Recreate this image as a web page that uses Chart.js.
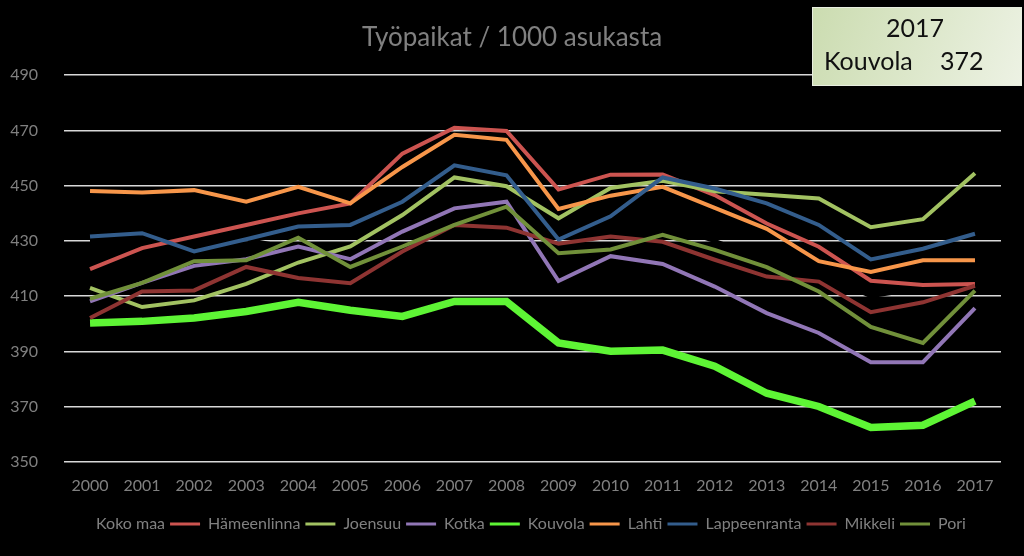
<!DOCTYPE html>
<html>
<head>
<meta charset="utf-8">
<style>
  html, body { margin: 0; padding: 0; background: #000; }
  #wrap { width: 1024px; height: 556px; }
</style>
<script src="https://cdn.jsdelivr.net/npm/chart.js@4/dist/chart.umd.min.js"></script>
</head>
<body>
<div id="wrap"><canvas id="jobsChart" width="1024" height="556"></canvas></div>
<script>
// Työpaikat / 1000 asukasta, 2000-2017
const years = ['2000', '2001', '2002', '2003', '2004', '2005', '2006', '2007', '2008',
  '2009', '2010', '2011', '2012', '2013', '2014', '2015', '2016', '2017'];

const yTicks = [350, 370, 390, 410, 430, 450, 470, 490];

const kokoMaa      = [430, 430, 430, 430.5, 427, 428, 438, 445, 446, 437, 438, 436, 430, 423, 418, 410, 413, 418];
const hameenlinna  = [419.8, 427.4, 431.6, 435.8, 440, 443.6, 461.6, 471, 469.8, 448.6, 454, 454.1, 446.6, 436.3, 427.9, 415.6, 414.1, 414.4];
const joensuu      = [413, 406.1, 408.5, 414.5, 422.2, 428, 439.4, 453, 449.8, 438.2, 449.2, 451.8, 448, 446.7, 445.4, 435, 437.9, 454.5];
const kotka        = [408.1, 414.8, 421, 423.4, 428, 423.4, 433.4, 441.8, 444.2, 415.5, 424.5, 421.7, 413.5, 403.9, 396.7, 386.1, 386.1, 405.7];
const kouvola      = [400.3, 400.9, 402.1, 404.5, 407.8, 404.9, 402.7, 408.1, 408.1, 393.1, 390.1, 390.5, 384.7, 374.9, 370.1, 362.5, 363.3, 372];
const lahti        = [448.1, 447.5, 448.4, 444.2, 449.6, 443.6, 456.8, 468.4, 466.6, 441.6, 446.4, 449.6, 442, 434.4, 422.7, 418.8, 423, 423];
const lappeenranta = [431.6, 432.8, 426.2, 430.6, 435.2, 435.8, 444.2, 457.4, 453.8, 430.5, 438.9, 453, 449, 443.6, 435.8, 423.3, 427.2, 432.6];
const mikkeli      = [402.1, 411.7, 412.1, 420.6, 416.6, 414.7, 426.2, 435.8, 434.8, 429, 431.6, 429.7, 423.2, 417.1, 415.3, 404.2, 407.8, 413.8];
const pori         = [409.1, 414.8, 422.7, 423, 431.2, 420.6, 428, 435.8, 442.4, 425.6, 426.9, 432.2, 426.8, 420.5, 411.7, 398.9, 393.1, 412];

const seriesNames  = ['Koko maa', 'Hämeenlinna', 'Joensuu', 'Kotka', 'Kouvola', 'Lahti', 'Lappeenranta', 'Mikkeli', 'Pori'];
const seriesValues = [kokoMaa, hameenlinna, joensuu, kotka, kouvola, lahti, lappeenranta, mikkeli, pori];
const seriesColors = ['#000000', '#cc5450', '#a2c262', '#9176b6', '#5ef535', '#f7964a', '#335d8c', '#8e3432', '#71903a'];
const seriesWidths = [4, 4, 4, 4, 7.5, 4, 4, 4, 4];

const highlightName = 'Kouvola';
const highlightYear = '2017';

const FONT = 'Lato';
const GREY = '#808080';

// black page background
const bgPlugin = {
  id: 'bg',
  beforeDraw(chart) {
    const ctx = chart.ctx;
    ctx.save();
    ctx.fillStyle = '#000';
    ctx.fillRect(0, 0, chart.width, chart.height);
    ctx.restore();
  }
};

// green info box top right
const infoBoxPlugin = {
  id: 'infoBox',
  afterDraw(chart) {
    const ctx = chart.ctx;
    const x = 812, y = 7, w = 210, h = 79;
    const idx = years.indexOf(highlightYear);
    const value = Math.round(seriesValues[seriesNames.indexOf(highlightName)][idx]);

    ctx.save();
    const grad = ctx.createLinearGradient(x, y, x + w, y + h);
    grad.addColorStop(0, '#cbdcb0');
    grad.addColorStop(1, '#edf2e4');
    ctx.fillStyle = grad;
    ctx.fillRect(x, y, w, h);
    ctx.strokeStyle = '#e8eee0';
    ctx.lineWidth = 1;
    ctx.strokeRect(x + 0.5, y + 0.5, w - 1, h - 1);

    ctx.fillStyle = '#111';
    ctx.font = '25px ' + FONT;
    ctx.textBaseline = 'middle';
    ctx.textAlign = 'center';
    ctx.fillText(highlightYear, 915, 29);
    ctx.textAlign = 'left';
    ctx.fillText(highlightName, 824, 62);
    ctx.fillText(String(value), 940, 62);
    ctx.restore();
  }
};

function buildDatasets() {
  return seriesNames.map((name, i) => ({
    label: name,
    data: seriesValues[i],
    borderColor: seriesColors[i],
    backgroundColor: seriesColors[i],
    borderWidth: seriesWidths[i],
    pointRadius: 0,
    tension: 0,
    fill: false,
    // later series on top, like the original
    order: seriesNames.length - i
  }));
}

function initJobsChart() {
  const canvas = document.getElementById('jobsChart');
  if (!canvas || typeof Chart === 'undefined') return;

  new Chart(canvas.getContext('2d'), {
    type: 'line',
    data: {
      labels: years,
      datasets: buildDatasets()
    },
    options: {
      responsive: false,
      animation: false,
      devicePixelRatio: 1,
      layout: {
        padding: { left: 0, right: 0, top: 0, bottom: 14 }
      },
      scales: {
        x: {
          offset: true,
          grid: { display: false, drawTicks: false },
          border: { display: false },
          ticks: {
            color: GREY,
            font: { family: FONT, size: 16 },
            padding: 14,
            maxRotation: 0,
            autoSkip: false
          },
          afterFit: scale => { scale.height = 49; }
        },
        y: {
          min: 350,
          max: 490,
          afterBuildTicks: scale => {
            scale.ticks = yTicks.map(v => ({ value: v }));
          },
          grid: {
            color: '#d9d9d9',
            lineWidth: 1.5,
            drawTicks: false
          },
          border: { display: false },
          ticks: {
            color: GREY,
            font: { family: FONT, size: 16 },
            padding: 26
          },
          afterFit: scale => { scale.width = 64; }
        },
        // empty right margin so the title stays centred on the page
        yRight: {
          position: 'right',
          min: 350,
          max: 490,
          grid: { display: false, drawTicks: false },
          border: { display: false },
          ticks: { display: false },
          afterFit: scale => { scale.width = 23; }
        }
      },
      plugins: {
        title: {
          display: true,
          text: 'Työpaikat / 1000 asukasta',
          color: GREY,
          font: { family: FONT, size: 26, weight: 'normal' },
          padding: { top: 22, bottom: 22 }
        },
        legend: {
          position: 'bottom',
          reverse: true,
          labels: {
            color: GREY,
            font: { family: FONT, size: 16 },
            boxWidth: 30,
            boxHeight: 3,
            padding: 5,
            generateLabels: chart => {
              const items = Chart.defaults.plugins.legend.labels.generateLabels(chart);
              return items.map(item => Object.assign(item, {
                fillStyle: item.strokeStyle,
                lineWidth: 0
              }));
            }
          }
        },
        tooltip: { enabled: false }
      }
    },
    plugins: [bgPlugin, infoBoxPlugin]
  });
}

if (document.readyState === 'loading') {
  document.addEventListener('DOMContentLoaded', initJobsChart);
} else {
  initJobsChart();
}
</script>
</body>
</html>
